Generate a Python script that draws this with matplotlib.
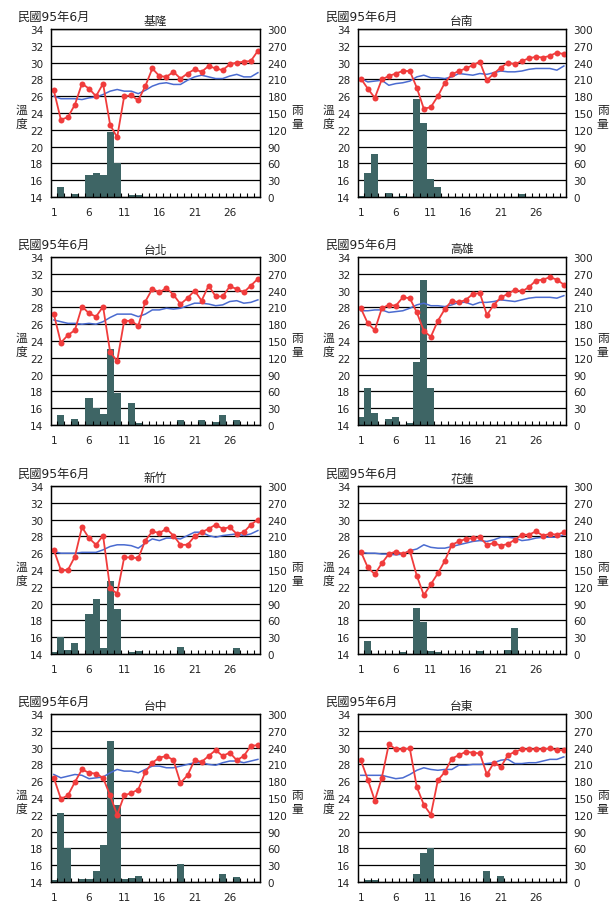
import matplotlib
matplotlib.use("Agg")
import matplotlib.pyplot as plt
from matplotlib.ticker import FixedLocator

plt.rcParams["font.family"] = ["DejaVu Sans", "Noto Sans CJK TC"]

days = list(range(1, 31))
day_labels = [1, 6, 11, 16, 21, 26]

# 每日均溫 / 氣候平均 / 雨量 (民國95年6月)
keelung_temp = [26.7, 23.2, 23.5, 25.0, 27.5, 26.9, 26.0, 27.5, 22.6, 21.1,
                26.0, 26.1, 25.5, 27.2, 29.3, 28.4, 28.3, 28.9, 28.1, 28.7,
                29.2, 28.9, 29.6, 29.3, 29.1, 29.8, 30.0, 30.1, 30.2, 31.4]
keelung_normal = [26.0, 25.7, 25.7, 25.7, 25.6, 25.8, 25.9, 26.2, 26.6, 26.8,
                  26.6, 26.6, 26.3, 26.7, 27.2, 27.5, 27.6, 27.4, 27.4, 27.9,
                  28.3, 28.5, 28.3, 28.1, 28.1, 28.4, 28.6, 28.3, 28.3, 28.8]
keelung_rain = [0, 18, 0, 6, 0, 39, 43, 40, 116, 61,
                0, 3, 3, 0, 0, 0, 0, 0, 0, 0,
                0, 0, 0, 0, 0, 0, 0, 0, 0, 0]

tainan_temp = [28.1, 26.9, 25.8, 28.0, 28.4, 28.7, 29.0, 29.0, 27.0, 24.5,
               24.7, 26.0, 27.6, 28.6, 29.0, 29.3, 29.7, 30.1, 27.9, 28.7,
               29.4, 30.0, 29.8, 30.2, 30.5, 30.7, 30.6, 30.8, 31.2, 31.0]
tainan_normal = [28.1, 27.7, 27.8, 27.9, 27.3, 27.5, 27.6, 27.8, 28.3, 28.5,
                 28.2, 28.2, 28.1, 28.3, 28.7, 28.6, 28.5, 28.7, 28.6, 28.8,
                 29.0, 28.9, 28.9, 29.0, 29.2, 29.3, 29.3, 29.3, 29.1, 29.6]
tainan_rain = [2, 43, 76, 0, 8, 0, 1, 0, 175, 132,
               33, 17, 0, 0, 0, 0, 0, 0, 0, 0,
               0, 0, 0, 6, 0, 0, 0, 0, 0, 0]

taipei_temp = [27.2, 23.8, 24.7, 25.3, 28.1, 27.3, 26.9, 28.1, 22.7, 21.6,
               26.4, 26.4, 25.8, 28.7, 30.2, 29.8, 30.3, 29.5, 28.4, 29.1,
               30.0, 28.8, 30.6, 29.3, 29.3, 30.5, 30.2, 29.8, 30.6, 31.4]
taipei_normal = [26.5, 26.3, 26.1, 26.1, 26.0, 26.1, 26.0, 26.3, 26.8, 27.2,
                 27.2, 27.2, 26.9, 27.2, 27.7, 27.7, 27.9, 27.8, 27.9, 28.2,
                 28.5, 28.5, 28.4, 28.2, 28.3, 28.7, 28.8, 28.5, 28.6, 28.9]
taipei_rain = [0, 18, 0, 11, 0, 49, 30, 20, 135, 58,
               0, 40, 3, 0, 0, 0, 0, 0, 9, 0,
               0, 9, 0, 6, 18, 0, 9, 0, 0, 0]

kaohsiung_temp = [27.9, 26.1, 25.3, 27.9, 28.3, 28.2, 29.2, 29.1, 27.4, 25.2,
                  24.5, 26.4, 27.8, 28.8, 28.6, 28.9, 29.6, 29.7, 27.1, 28.3,
                  29.2, 29.6, 30.1, 29.9, 30.4, 31.2, 31.3, 31.6, 31.3, 30.7]
kaohsiung_normal = [27.6, 27.6, 27.7, 27.7, 27.4, 27.5, 27.6, 27.9, 28.3, 28.5,
                    28.2, 28.2, 28.1, 28.3, 28.6, 28.6, 28.3, 28.6, 28.6, 28.7,
                    28.9, 28.8, 28.7, 28.9, 29.1, 29.2, 29.2, 29.2, 29.1, 29.4]
kaohsiung_rain = [14, 66, 21, 0, 10, 14, 0, 3, 113, 259,
                  66, 0, 0, 0, 0, 0, 0, 0, 0, 0,
                  0, 0, 0, 0, 0, 0, 0, 0, 0, 0]

hsinchu_temp = [26.4, 24.0, 24.0, 25.6, 29.1, 27.8, 27.0, 28.1, 21.8, 21.2,
                25.5, 25.5, 25.4, 27.5, 28.6, 28.4, 28.9, 28.1, 27.0, 27.0,
                28.0, 28.5, 28.9, 29.4, 28.9, 29.1, 28.3, 28.5, 29.4, 30.0]
hsinchu_normal = [26.2, 26.0, 26.0, 26.0, 26.1, 26.1, 26.1, 26.4, 26.8, 27.0,
                  27.0, 26.9, 26.6, 27.2, 27.7, 27.5, 27.8, 27.8, 27.7, 28.1,
                  28.5, 28.5, 28.1, 27.9, 28.1, 28.2, 28.3, 28.1, 28.3, 28.7]
hsinchu_rain = [3, 31, 7, 19, 0, 71, 99, 10, 130, 81,
                0, 3, 5, 0, 0, 0, 0, 0, 12, 0,
                0, 0, 0, 0, 0, 0, 10, 0, 0, 0]

hualien_temp = [26.2, 24.3, 23.5, 24.8, 25.9, 26.2, 25.9, 26.3, 23.3, 21.0,
                22.3, 23.6, 25.1, 27.0, 27.4, 27.7, 27.8, 27.9, 27.0, 27.2,
                26.9, 27.1, 27.6, 28.2, 28.2, 28.6, 28.1, 28.3, 28.2, 28.5]
hualien_normal = [26.1, 26.0, 26.0, 25.9, 25.9, 25.8, 25.9, 26.3, 26.5, 27.0,
                  26.7, 26.6, 26.6, 26.8, 27.0, 27.2, 27.4, 27.5, 27.4, 27.6,
                  27.9, 27.9, 27.8, 27.5, 27.6, 27.8, 27.9, 27.9, 27.9, 28.2]
hualien_rain = [0, 24, 0, 0, 0, 0, 4, 0, 82, 58,
                5, 4, 0, 0, 0, 0, 0, 5, 0, 0,
                0, 8, 47, 0, 0, 0, 0, 0, 0, 0]

taichung_temp = [26.4, 23.9, 24.3, 25.9, 27.4, 27.0, 26.9, 26.4, 24.3, 22.0,
                 24.3, 24.6, 25.0, 27.1, 28.2, 28.8, 29.0, 28.5, 25.8, 26.7,
                 28.5, 28.3, 29.0, 29.7, 29.0, 29.4, 28.5, 29.0, 30.2, 30.3]
taichung_normal = [26.8, 26.4, 26.6, 26.8, 26.7, 26.3, 26.4, 26.5, 27.0, 27.4,
                   27.2, 27.2, 27.0, 27.4, 27.8, 27.8, 27.6, 27.6, 27.8, 28.0,
                   28.2, 28.2, 28.0, 27.9, 28.2, 28.4, 28.4, 28.2, 28.4, 28.6]
taichung_rain = [3, 124, 60, 0, 6, 6, 20, 66, 251, 138,
                 6, 8, 11, 0, 0, 0, 0, 0, 33, 0,
                 0, 0, 0, 0, 14, 0, 9, 0, 0, 0]

taitung_temp = [28.5, 26.2, 23.7, 26.4, 30.4, 29.8, 29.8, 29.9, 25.3, 23.2,
                22.0, 26.1, 27.1, 28.7, 29.1, 29.5, 29.4, 29.3, 26.8, 28.2,
                27.7, 29.1, 29.5, 29.8, 29.8, 29.8, 29.8, 29.9, 29.7, 29.7]
taitung_normal = [26.7, 26.7, 26.7, 26.7, 26.5, 26.3, 26.4, 26.8, 27.3, 27.6,
                  27.4, 27.3, 27.4, 27.4, 27.9, 27.9, 28.0, 28.0, 28.1, 28.2,
                  28.5, 28.6, 28.1, 28.1, 28.2, 28.2, 28.4, 28.6, 28.6, 28.9]
taitung_rain = [0, 3, 3, 0, 0, 0, 0, 0, 14, 52,
                61, 0, 0, 0, 0, 0, 0, 0, 19, 0,
                10, 0, 0, 0, 0, 0, 0, 0, 0, 0]

stations = [
    ("基隆", keelung_temp, keelung_normal, keelung_rain),
    ("台南", tainan_temp, tainan_normal, tainan_rain),
    ("台北", taipei_temp, taipei_normal, taipei_rain),
    ("高雄", kaohsiung_temp, kaohsiung_normal, kaohsiung_rain),
    ("新竹", hsinchu_temp, hsinchu_normal, hsinchu_rain),
    ("花蓮", hualien_temp, hualien_normal, hualien_rain),
    ("台中", taichung_temp, taichung_normal, taichung_rain),
    ("台東", taitung_temp, taitung_normal, taitung_rain),
]

RED = "#F03C3C"
BLUE = "#4A6BD0"
BAR = "#3E6565"
TXT = "#222222"

W, H = 616, 904
fig = plt.figure(figsize=(W / 100, H / 100), dpi=100)

col_left = [51, 358]
col_width = [209, 208]
row_top = [30, 258, 487, 715]
ax_h = 168

for i, (name, temp, normal, rain) in enumerate(stations):
    r, c = divmod(i, 2)
    rect = [col_left[c] / W, 1 - (row_top[r] + ax_h) / H,
            col_width[c] / W, ax_h / H]
    ax = fig.add_axes(rect)
    ax2 = ax.twinx()
    # 溫度線畫在雨量柱之上
    ax.set_zorder(ax2.get_zorder() + 1)
    ax.patch.set_visible(False)

    ax2.bar(days, rain, width=1.0, color=BAR, linewidth=0, zorder=2)
    ax2.set_ylim(0, 300)
    ax2.set_yticks(range(0, 301, 30))
    ax2.grid(axis="y", color="black", linewidth=0.9, zorder=1)
    ax2.set_axisbelow(True)

    ax.plot(days, normal, color=BLUE, linewidth=1.1)
    ax.plot(days, temp, color=RED, linewidth=1.3, marker="o",
            markersize=4.3, markeredgewidth=0)
    ax.set_ylim(14, 34)
    ax.set_yticks(range(14, 35, 2))
    ax.set_xlim(0.6, 30.3)
    ax.set_xticks(day_labels)
    ax.xaxis.set_minor_locator(FixedLocator([d + 0.5 for d in days[:-1]]))

    ax.tick_params(axis="x", which="major", length=0, pad=7.5,
                   labelsize=7.5, colors=TXT)
    ax.tick_params(axis="x", which="minor", direction="in", length=2.6,
                   width=0.8, color="black")
    ax.tick_params(axis="y", length=0, pad=5.5, labelsize=7.5, colors=TXT)
    ax2.tick_params(axis="y", length=0, pad=5.5, labelsize=7.5, colors=TXT)

    for a in (ax, ax2):
        for s in a.spines.values():
            s.set_color("black")
            s.set_linewidth(0.9)

    ax.set_ylabel("溫\n度", rotation=0, fontsize=8.5, color=TXT,
                  va="center", ha="center", linespacing=1.1)
    ax.yaxis.set_label_coords(-0.14, 0.48)
    ax2.set_ylabel("雨\n量", rotation=0, fontsize=8.5, color=TXT,
                   va="center", ha="center", linespacing=1.1)
    ax2.yaxis.set_label_coords(1.177, 0.48)

    ax.text(0.5, 1.048, name, transform=ax.transAxes, ha="center",
            va="center", fontsize=8.5, color=TXT)
    ax.text(-0.16, 1.077, "民國95年6月", transform=ax.transAxes, ha="left",
            va="center", fontsize=8.8, color=TXT)

fig.savefig("out.png", dpi=100)
